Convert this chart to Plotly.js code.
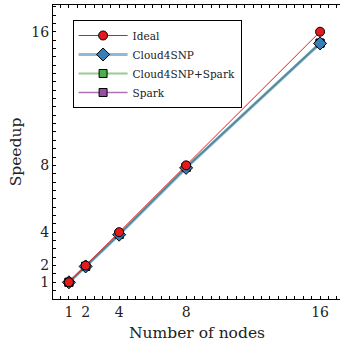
<!DOCTYPE html>
<html>
<head>
<meta charset="utf-8">
<script src="https://cdn.plot.ly/plotly-3.0.1.min.js"></script>
<style>
html, body { margin: 0; padding: 0; overflow: hidden; background: #fff; }
#chart { width: 345px; height: 344px; }
</style>
</head>
<body>
<div id="chart"></div>
<script>
// Data
const nodes = [1, 2, 4, 8, 16];
const ideal = [1, 2, 4, 8, 16];
const cloud4snp = [1, 1.95, 3.85, 7.85, 15.3];
const cloud4snpSpark = [1, 1.96, 3.87, 7.88, 15.32];
const spark = [1, 1.95, 3.86, 7.87, 15.31];
const tickLabels = ['1', '2', '4', '8', '16'];

const FONT = 'DejaVu Serif, serif';

function series(name, y, symbol, fill, lineColor, lineWidth, size, rank) {
  return {
    x: nodes, y: y, name: name, type: 'scatter', mode: 'lines+markers',
    line: { color: lineColor, width: lineWidth },
    marker: { symbol: symbol, color: fill, size: size, line: { color: 'black', width: 1 } },
    legendrank: rank
  };
}

const traces = [
  series('Spark', spark, 'square', '#984ea3', 'rgba(152,78,163,0.8)', 1.5, 8, 4),
  series('Cloud4SNP+Spark', cloud4snpSpark, 'square', '#4daf4a', 'rgba(77,175,74,0.6)', 2, 8, 3),
  series('Cloud4SNP', cloud4snp, 'diamond', '#377eb8', 'rgba(55,126,184,0.55)', 3, 10, 2),
  series('Ideal', ideal, 'circle', '#e41a1c', '#e41a1c', 1, 9, 1)
];

const layout = {
  width: 345, height: 344,
  margin: { l: 53, r: 4, t: 5, b: 45 },
  paper_bgcolor: 'white', plot_bgcolor: 'white',
  font: { family: FONT, color: 'black' },
  showlegend: true,
  legend: {
    x: 0.068, y: 0.949, xanchor: 'left', yanchor: 'top',
    bgcolor: 'white', bordercolor: 'black', borderwidth: 1,
    font: { family: FONT, size: 10.5, color: '#222' },
    itemwidth: 49
  },
  xaxis: {
    range: [0.05, 17.25],
    tickmode: 'array', tickvals: nodes, ticktext: tickLabels,
    ticks: 'inside', ticklen: 3, tickcolor: 'black', tickwidth: 1,
    showline: true, linecolor: 'black', linewidth: 1, mirror: 'allticks',
    showgrid: false, zeroline: false,
    minor: { tickmode: 'linear', tick0: 0, dtick: 0.5, ticks: 'inside', ticklen: 3, tickcolor: 'black', showgrid: false },
    tickfont: { family: FONT, size: 14, color: '#222' },
    title: { text: 'Number of nodes', font: { family: FONT, size: 15.5, color: '#222' }, standoff: 8 }
  },
  yaxis: {
    range: [0, 17.6],
    tickmode: 'array', tickvals: ideal, ticktext: tickLabels,
    ticks: 'inside', ticklen: 3, tickcolor: 'black', tickwidth: 1,
    showline: true, linecolor: 'black', linewidth: 1, mirror: true,
    showgrid: false, zeroline: false,
    minor: { tickmode: 'linear', tick0: 0, dtick: 0.5, ticks: 'inside', ticklen: 3, tickcolor: 'black', showgrid: false },
    tickfont: { family: FONT, size: 14, color: '#222' },
    title: { text: 'Speedup', font: { family: FONT, size: 15.5, color: '#222' }, standoff: 5 }
  },
  yaxis2: {
    overlaying: 'y', anchor: 'x', side: 'left',
    range: [0, 17.6], tickmode: 'linear', tick0: 0, dtick: 2.5,
    ticks: 'inside', ticklen: 6, tickcolor: 'black', tickwidth: 1,
    showticklabels: false, showgrid: false, zeroline: false, showline: false,
    mirror: 'ticks'
  }
};

Plotly.newPlot('chart', traces, layout, { displayModeBar: false, staticPlot: true });
</script>
</body>
</html>
